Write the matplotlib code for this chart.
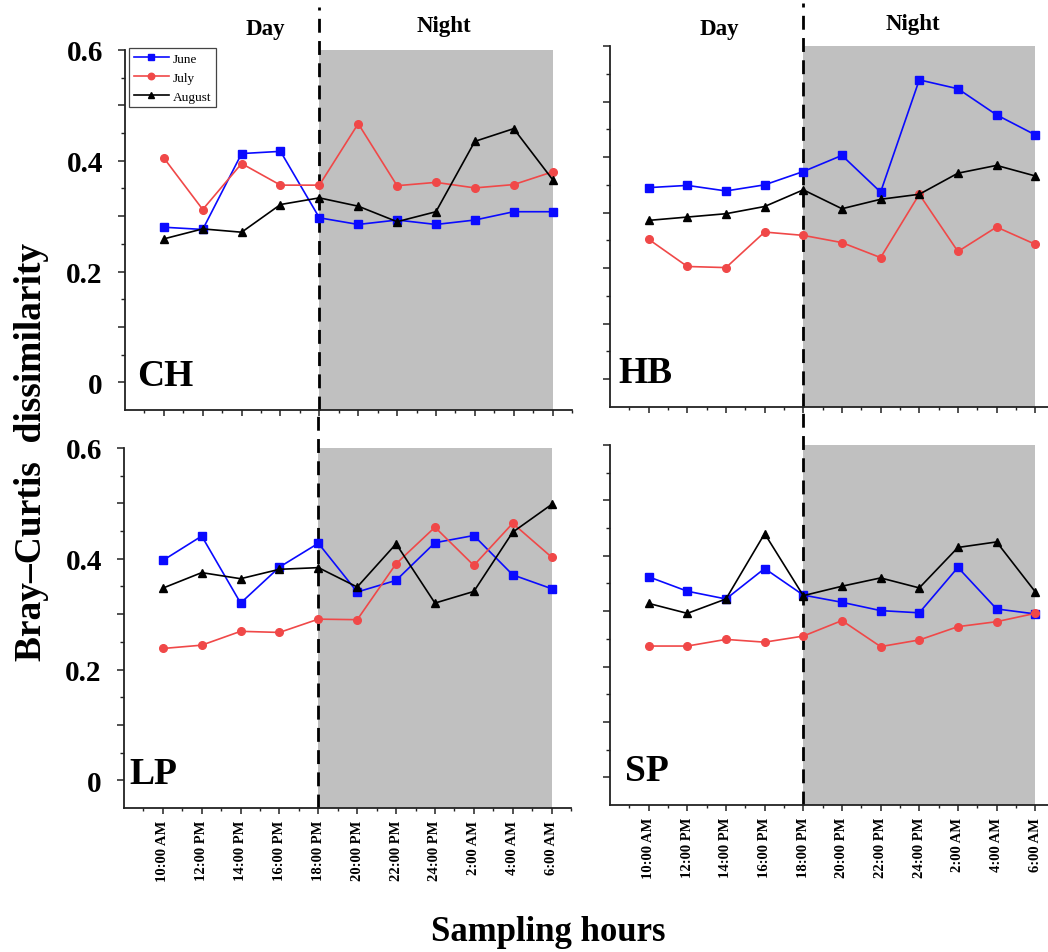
import matplotlib
matplotlib.use("Agg")
import matplotlib.pyplot as plt
from matplotlib.ticker import FixedLocator, FuncFormatter

plt.rcParams['font.family'] = ['Liberation Serif', 'DejaVu Serif']

hours = ["10:00 AM", "12:00 PM", "14:00 PM", "16:00 PM", "18:00 PM", "20:00 PM",
         "22:00 PM", "24:00 PM", "2:00 AM", "4:00 AM", "6:00 AM"]
months = ["June", "July", "August"]

ch_june = [0.280, 0.276, 0.413, 0.417, 0.297, 0.285, 0.293, 0.285, 0.293, 0.308, 0.308]
ch_july = [0.405, 0.312, 0.395, 0.356, 0.356, 0.467, 0.355, 0.361, 0.351, 0.357, 0.380]
ch_aug = [0.259, 0.277, 0.271, 0.321, 0.333, 0.318, 0.290, 0.308, 0.435, 0.458, 0.366]

hb_june = [0.345, 0.349, 0.339, 0.350, 0.374, 0.403, 0.337, 0.539, 0.523, 0.476, 0.440]
hb_july = [0.252, 0.203, 0.201, 0.265, 0.259, 0.246, 0.219, 0.333, 0.230, 0.274, 0.243]
hb_aug = [0.286, 0.292, 0.298, 0.311, 0.341, 0.307, 0.324, 0.333, 0.371, 0.385, 0.366]

lp_june = [0.397, 0.441, 0.320, 0.385, 0.428, 0.340, 0.361, 0.429, 0.442, 0.371, 0.346]
lp_july = [0.238, 0.244, 0.269, 0.267, 0.291, 0.290, 0.391, 0.457, 0.388, 0.464, 0.403]
lp_aug = [0.347, 0.375, 0.364, 0.381, 0.384, 0.349, 0.427, 0.320, 0.341, 0.448, 0.498]

sp_june = [0.362, 0.336, 0.322, 0.377, 0.329, 0.316, 0.301, 0.297, 0.379, 0.304, 0.295]
sp_july = [0.237, 0.237, 0.249, 0.244, 0.255, 0.283, 0.236, 0.248, 0.272, 0.281, 0.296]
sp_aug = [0.314, 0.296, 0.322, 0.440, 0.328, 0.345, 0.360, 0.342, 0.415, 0.425, 0.335]

W, H = 1048, 953
fig = plt.figure(figsize=(W / 100, H / 100), dpi=100)


def px_axes(l, t, r, b):
    return fig.add_axes([l / W, 1 - b / H, (r - l) / W, (b - t) / H])


colors = ['#0a0aff', '#f04848', '#000000']
markers = ['s', 'o', '^']

panels = [
    ("CH", (125, 51, 572, 411), 10.5, [ch_june, ch_july, ch_aug], True, False, (12 / 447, 0.0)),
    ("HB", (610, 47, 1048, 408), 10.33, [hb_june, hb_july, hb_aug], False, False, (8 / 438, 0.0)),
    ("LP", (124, 449, 571, 809), 10.5, [lp_june, lp_july, lp_aug], True, True, (5 / 447, 0.0)),
    ("SP", (610, 446, 1048, 806), 10.33, [sp_june, sp_july, sp_aug], False, True, (15 / 438, 0.0)),
]

x = list(range(len(hours)))
axes = {}
for name, box, xr, series, ylab, xlab, lpos in panels:
    ax = px_axes(*box)
    axes[name] = ax
    ax.set_xlim(-1, xr)
    ax.set_ylim(-0.05, 0.6)
    ax.axvspan(4, 10, color='#c0c0c0', zorder=0, lw=0)
    for s, c, m, lab in zip(series, colors, markers, months):
        ax.plot(x, s, color=c, marker=m, markersize=5.5, lw=1.2, label=lab,
                zorder=3, clip_on=False)
    for sp in ['top', 'right']:
        ax.spines[sp].set_visible(False)
    for sp in ['left', 'bottom']:
        ax.spines[sp].set_linewidth(1.3)
        ax.spines[sp].set_color('#222222')
    # y ticks
    ax.yaxis.set_major_locator(FixedLocator([0, 0.1, 0.2, 0.3, 0.4, 0.5, 0.6]))
    ax.yaxis.set_minor_locator(FixedLocator([0.05, 0.15, 0.25, 0.35, 0.45, 0.55]))
    labmap = {0: '0', 2: '0.2', 4: '0.4', 6: '0.6'}
    if ylab:
        ax.yaxis.set_major_formatter(FuncFormatter(
            lambda v, p: labmap.get(int(round(v * 10)), '') if abs(v * 10 - round(v * 10)) < 1e-6 else ''))
    else:
        ax.set_yticklabels([])
    ax.tick_params(axis='y', which='major', direction='out', length=5, width=1.1,
                   labelsize=21, pad=11, color='#222222')
    ax.tick_params(axis='y', which='minor', direction='out', length=3, width=1.0, color='#222222')
    for t in ax.get_yticklabels():
        t.set_fontweight('bold')
    # x ticks
    ax.xaxis.set_major_locator(FixedLocator(x))
    ax.xaxis.set_minor_locator(FixedLocator([i + 0.5 for i in range(-2, 11)]))
    if xlab:
        ax.set_xticklabels(hours, rotation=90, fontsize=10.5, fontweight='bold', va='top', ha='center')
    else:
        ax.set_xticklabels([])
    ax.tick_params(axis='x', which='major', direction='out', length=4.5, width=1.1,
                   pad=4, color='#222222')
    ax.tick_params(axis='x', which='minor', direction='out', length=2.5, width=1.0, color='#222222')
    # panel letter
    ax.text(lpos[0], 0.07, name, transform=ax.transAxes, fontsize=27, fontweight='bold',
            ha='left', va='baseline', zorder=5)
    # dashed separator
    top_ext = 1.12 if not xlab else 1.11
    ax.axvline(4, ymin=0, ymax=top_ext, color='black', lw=2.0, dashes=(5, 3),
               clip_on=False, zorder=2)

# Day / Night labels
axes["CH"].text(2.6, 0.629, "Day", fontsize=16.5, fontweight='bold', ha='center', va='baseline')
axes["CH"].text(7.2, 0.634, "Night", fontsize=16.5, fontweight='bold', ha='center', va='baseline')
axes["HB"].text(1.84, 0.622, "Day", fontsize=16.5, fontweight='bold', ha='center', va='baseline')
axes["HB"].text(6.84, 0.630, "Night", fontsize=16.5, fontweight='bold', ha='center', va='baseline')

leg = axes["CH"].legend(loc='upper left', bbox_to_anchor=(0.009, 1.005), borderaxespad=0,
                        fontsize=9.5, frameon=True, fancybox=False, framealpha=1,
                        edgecolor='#444444', handlelength=2.7, handletextpad=0.3,
                        labelspacing=0.5, borderpad=0.35, numpoints=1, markerscale=0.85)
leg.get_frame().set_linewidth(0.9)

fig.text(32 / W, 1 - 452 / H, "Bray\u2013Curtis  dissimilarity", rotation=90, fontsize=27,
         fontweight='bold', ha='center', va='center')
fig.text(548 / W, 1 - 933 / H, "Sampling hours", fontsize=25, fontweight='bold',
         ha='center', va='center')

fig.savefig("out.png", dpi=100)
